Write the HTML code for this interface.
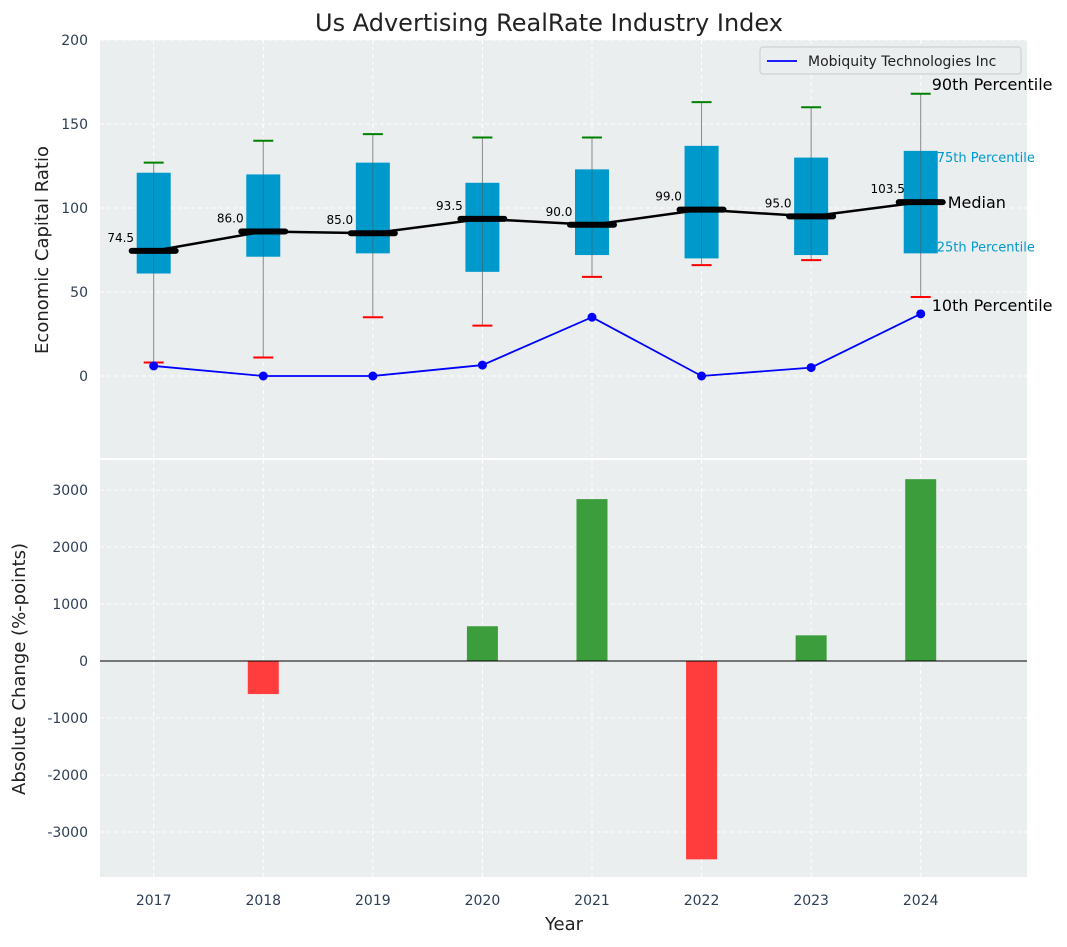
<!DOCTYPE html>
<html><head><meta charset="utf-8"><style>
body{margin:0;background:#fff;font-family:"Liberation Sans","DejaVu Sans",sans-serif}
svg text{font-family:"DejaVu Sans","Liberation Sans",sans-serif}
</style></head><body>
<svg id="c" width="1067" height="942" xmlns="http://www.w3.org/2000/svg"></svg>
<script>
const years=[2017,2018,2019,2020,2021,2022,2023,2024];
const q1=[61,71,73,62,72,70,72,73];
const q3=[121,120,127,115,123,137,130,134];
const med=[74.5,86,85,93.5,90,99,95,103.5];
const p10=[8,11,35,30,59,66,69,47];
const p90=[127,140,144,142,142,163,160,168];
const company=[6,0,0,6.5,35,0,5,37];
const change=[0,-580,0,610,2840,-3480,450,3190];
const topTicks=[0,50,100,150,200];
const botTicks=[-3000,-2000,-1000,0,1000,2000,3000];

const S=document.getElementById('c');const NS='http://www.w3.org/2000/svg';
function el(t,a,p){const e=document.createElementNS(NS,t);for(const k in a)e.setAttribute(k,a[k]);(p||S).appendChild(e);return e;}
const X0=100,X1=1027;
const x=v=>X0+(v-2016.51)*(X1-X0)/(2024.97-2016.51);
const yT=v=>376-v*1.68;
const yB=v=>661-v*0.057;

function panel(top,bot,name){
  const r=el('rect',{x:X0,y:top,width:X1-X0,height:bot-top,fill:'#eaeeee'});
  
  years.forEach(yr=>el('line',{x1:x(yr),x2:x(yr),y1:top,y2:bot,stroke:'#fff','stroke-dasharray':'4,3','stroke-width':1}));
}
panel(40,458,'top-plot-area');
panel(460,877,'bottom-plot-area');
topTicks.forEach(t=>{el('line',{x1:X0,x2:X1,y1:yT(t),y2:yT(t),stroke:'#fff','stroke-dasharray':'4,3'});
 const tx=el('text',{x:88,y:yT(t)+5,'text-anchor':'end','font-size':14,fill:'#2e3e55'});tx.textContent=t;
 });
botTicks.forEach(t=>{el('line',{x1:X0,x2:X1,y1:yB(t),y2:yB(t),stroke:'#fff','stroke-dasharray':'4,3'});
 const tx=el('text',{x:88,y:yB(t)+5,'text-anchor':'end','font-size':14,fill:'#2e3e55'});tx.textContent=t;
 });

years.forEach((yr,i)=>{
  const cx=x(yr);
  el('line',{x1:cx,x2:cx,y1:yT(p10[i]),y2:yT(p90[i]),stroke:'#888','stroke-width':1});
  const b=el('rect',{x:cx-17,y:yT(q3[i]),width:34,height:yT(q1[i])-yT(q3[i]),fill:'#0099cc'});
  
  el('line',{x1:cx,x2:cx,y1:yT(q1[i]),y2:yT(q3[i]),stroke:'#555','stroke-width':0.8,opacity:0.6});
  el('line',{x1:cx-10,x2:cx+10,y1:yT(p90[i]),y2:yT(p90[i]),stroke:'green','stroke-width':2});
  el('line',{x1:cx-10,x2:cx+10,y1:yT(p10[i]),y2:yT(p10[i]),stroke:'red','stroke-width':2});
  el('line',{x1:cx-22,x2:cx+22,y1:yT(med[i]),y2:yT(med[i]),stroke:'#000','stroke-width':6,'stroke-linecap':'round'});
  const t=el('text',{x:cx-33,y:yT(med[i])-9,'text-anchor':'middle','font-size':12});t.textContent=med[i].toFixed(1);
  
});
el('polyline',{points:years.map((yr,i)=>x(yr)+','+yT(med[i])).join(' '),fill:'none',stroke:'#000','stroke-width':2.5});
el('polyline',{points:years.map((yr,i)=>x(yr)+','+yT(company[i])).join(' '),fill:'none',stroke:'blue','stroke-width':1.8});
years.forEach((yr,i)=>{const c=el('circle',{cx:x(yr),cy:yT(company[i]),r:4.5,fill:'blue'});
 });
const L=years.length-1,ax=x(years[L]);
[[p90[L],'90th Percentile',16,'#000',11,-4],[q3[L],'75th Percentile',13,'#0099cc',16,11],[med[L],'Median',16,'#000',27,6],[q1[L],'25th Percentile',13,'#0099cc',16,-2],[p10[L],'10th Percentile',16,'#000',11,14]].forEach(a=>{
 const t=el('text',{x:ax+a[4],y:yT(a[0])+a[5],'font-size':a[2],fill:a[3]});t.textContent=a[1];
 });
const lg=el('g',{});
el('rect',{x:760,y:47,width:261,height:27,rx:3,fill:'#eaeeee',stroke:'#ccc'},lg);
el('line',{x1:767,x2:797,y1:61,y2:61,stroke:'blue','stroke-width':1.8},lg);
const lt=el('text',{x:808,y:66,'font-size':14,fill:'#222'},lg);lt.textContent='Mobiquity Technologies Inc';

years.forEach((yr,i)=>{const v=change[i];if(!v)return;
 const b=el('rect',{x:x(yr)-15.5,y:Math.min(yB(0),yB(v)),width:31,height:Math.abs(yB(v)-yB(0)),fill:v>0?'#3c9d3c':'#ff3d3d'});
 });
el('line',{x1:X0,x2:X1,y1:yB(0),y2:yB(0),stroke:'#000','stroke-width':1});
years.forEach(yr=>{const t=el('text',{x:x(yr),y:905,'text-anchor':'middle','font-size':14,fill:'#2e3e55'});t.textContent=yr;
 });

function lab(txt,a,name){const t=el('text',a);t.textContent=txt;}
lab('Us Advertising RealRate Industry Index',{x:549,y:31,'text-anchor':'middle','font-size':24,fill:'#222'},'chart-title');
lab('Year',{x:564,y:930,'text-anchor':'middle','font-size':18,fill:'#222'},'x-axis-title');
lab('Economic Capital Ratio',{x:48,y:250,'text-anchor':'middle','font-size':18,fill:'#222',transform:'rotate(-90 48 250)'},'y-axis-title-top');
lab('Absolute Change (%-points)',{x:25,y:669,'text-anchor':'middle','font-size':18,fill:'#222',transform:'rotate(-90 25 669)'},'y-axis-title-bottom');
</script></body></html>
